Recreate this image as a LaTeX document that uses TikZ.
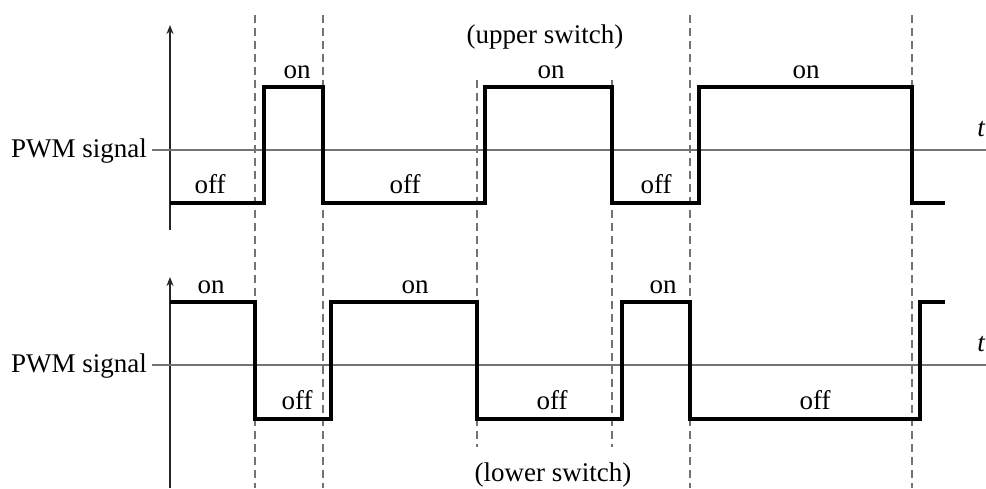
\documentclass[tikz,border=0pt]{standalone}
\usepackage{fontspec}
\setmainfont{Liberation Serif}
\usetikzlibrary{arrows.meta}
\begin{document}
\begin{tikzpicture}[x=1pt,y=-1pt,
  wave/.style={line width=3.4pt,line join=miter},
  axis/.style={line width=1.6pt,black!85,-{Stealth[length=9pt,width=7pt]}},
  midline/.style={line width=1.7pt,black!55},
  guide/.style={line width=1.6pt,black!55,dash pattern=on 8pt off 5pt},
  lbl/.style={anchor=base,inner sep=0pt,font=\fontsize{27}{30}\selectfont}]
\useasboundingbox (0,0) rectangle (986,488);
% dashed guide lines
\foreach \x in {255,323,690,912} \draw[guide] (\x,15) -- (\x,488);
\draw[guide] (477,80) -- (477,447);
\draw[guide] (612,80) -- (612,447);
% axes
\coordinate (a1b) at (170,230); \coordinate (a1t) at (170,25);
\coordinate (a2b) at (170,488); \coordinate (a2t) at (170,277);
\draw[axis] (a1b) -- (a1t);
\draw[axis] (a2b) -- (a2t);
% labels PWM
\node[lbl,anchor=base east] (p1) at (147,157) {PWM signal};
\node[lbl,anchor=base east] (p2) at (147,372) {PWM signal};
\coordinate (m1) at (986,150); \coordinate (m2) at (986,365);
\draw[midline] (p1.east|-m1) ++(5,0) -- (m1);
\draw[midline] (p2.east|-m2) ++(5,0) -- (m2);
% t labels at the right edge
\node[lbl,anchor=base east] (t1) at (985,136) {\itshape t};
\node[lbl,anchor=base east] (t2) at (985,351) {\itshape t};
% upper waveform
\draw[wave] (170,203) -- (264,203) -- (264,87) -- (323,87) -- (323,203) -- (485,203) -- (485,87) -- (612,87) -- (612,203) -- (699,203) -- (699,87) -- (912,87) -- (912,203) -- (945,203);
% lower waveform
\draw[wave] (170,302) -- (255,302) -- (255,419) -- (331,419) -- (331,302) -- (477,302) -- (477,419) -- (622,419) -- (622,302) -- (690,302) -- (690,419) -- (920,419) -- (920,302) -- (945,302);
% state labels upper
\node[lbl] (u1) at (210,193) {off};
\node[lbl] (u2) at (297,78) {on};
\node[lbl] (u3) at (405,193) {off};
\node[lbl] (u4) at (551,78) {on};
\node[lbl] (u5) at (656,193) {off};
\node[lbl] (u6) at (806,78) {on};
\node[lbl] (us) at (545,43) {(upper switch)};
% state labels lower
\node[lbl] (l1) at (211,293) {on};
\node[lbl] (l2) at (297,409) {off};
\node[lbl] (l3) at (415,293) {on};
\node[lbl] (l4) at (552,409) {off};
\node[lbl] (l5) at (663,293) {on};
\node[lbl] (l6) at (815,409) {off};
\node[lbl] (ls) at (553,481) {(lower switch)};
\end{tikzpicture}
\end{document}
